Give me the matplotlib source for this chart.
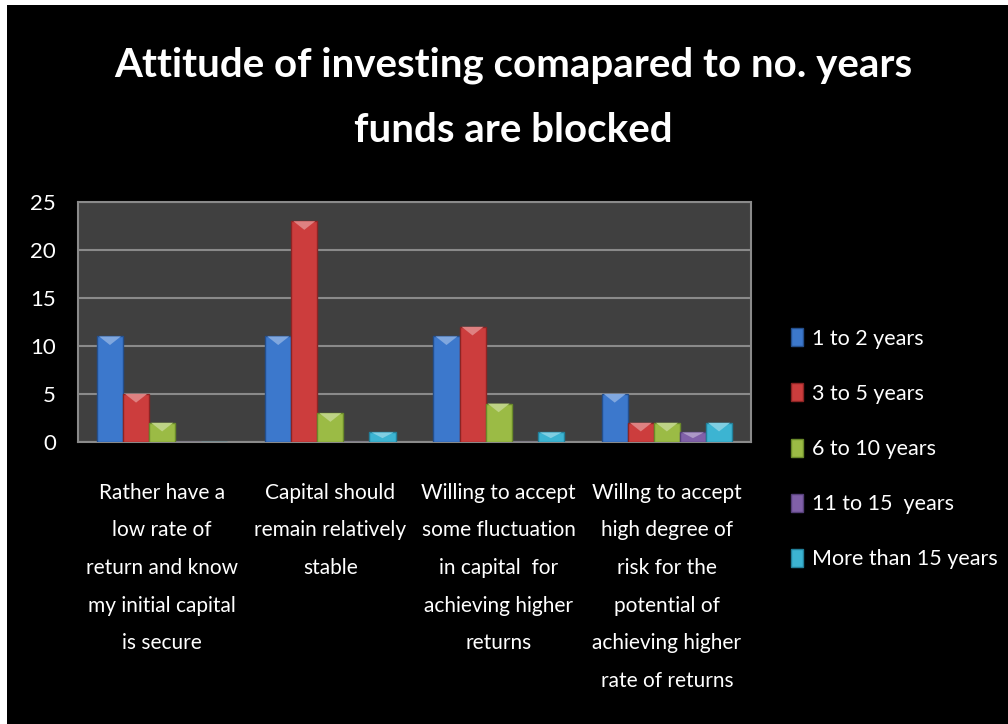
import numpy as np
import matplotlib.pyplot as plt
from matplotlib.patches import Rectangle, Polygon
from matplotlib.colors import to_rgb
from matplotlib import font_manager

# ----------- DATA -----------
categories = [
    "Rather have a\nlow rate of\nreturn and know\nmy initial capital\nis secure",
    "Capital should\nremain relatively\nstable",
    "Willing to accept\nsome fluctuation\nin capital  for\nachieving higher\nreturns",
    "Willng to accept\nhigh degree of\nrisk for the\npotential of\nachieving higher\nrate of returns",
]
series_names = ["1 to 2 years", "3 to 5 years", "6 to 10 years",
                "11 to 15  years", "More than 15 years"]
yrs_1_2 = [11, 11, 11, 5]
yrs_3_5 = [5, 23, 12, 2]
yrs_6_10 = [2, 3, 4, 2]
yrs_11_15 = [0, 0, 0, 1]
yrs_15_plus = [0, 1, 1, 2]
yticks = [0, 5, 10, 15, 20, 25]

colors = ["#3c78cc", "#cc3d3d", "#9bbb45", "#8060a8", "#3cb4d2"]
edges = ["#244f8c", "#8c2424", "#6a8a2a", "#56407a", "#22809a"]

# ----------- FONT -----------
names = {f.name for f in font_manager.fontManager.ttflist}
fam = "Liberation Sans Narrow" if "Liberation Sans Narrow" in names else "Lato"
plt.rcParams["font.family"] = [fam, "DejaVu Sans"]

# ----------- FIGURE -----------
fig = plt.figure(figsize=(10.08, 7.24), dpi=100, facecolor="white")
fig.patches.append(Rectangle((7 / 1008, 0), 1 - 7 / 1008, 1 - 5 / 724,
                             transform=fig.transFigure, facecolor="black",
                             edgecolor="none", zorder=-10))

fig.text(0.509, 0.91, "Attitude of investing comapared to no. years",
         ha="center", va="center", color="white", fontsize=29, fontweight="bold")
fig.text(0.509, 0.82, "funds are blocked",
         ha="center", va="center", color="white", fontsize=29, fontweight="bold")

ax = fig.add_axes([78 / 1008, 1 - 442 / 724, 673 / 1008, 240 / 724])
ax.set_facecolor("#404040")

data = [yrs_1_2, yrs_3_5, yrs_6_10, yrs_11_15, yrs_15_plus]
x = np.arange(len(categories))
w = 0.155
for i, vals in enumerate(data):
    pos = x + (i - 2) * w
    bars = ax.bar(pos, vals, width=w, color=colors[i], edgecolor=edges[i],
                  linewidth=1, label=series_names[i], zorder=3)
    # lighter bevel on top of each bar
    light = tuple(c + (1 - c) * 0.35 for c in to_rgb(colors[i]))
    for b in bars:
        h = b.get_height()
        if h <= 0:
            continue
        x0, bw = b.get_x(), b.get_width()
        d = min(0.9, h * 0.6)
        tri = Polygon([(x0 + bw * 0.08, h), (x0 + bw * 0.92, h),
                       (x0 + bw * 0.5, h - d)], closed=True,
                      facecolor=light, edgecolor="none", zorder=4)
        ax.add_patch(tri)

ax.set_xlim(-0.5, len(categories) - 0.5)
ax.set_ylim(0, 25)
ax.set_yticks(yticks)
ax.set_yticklabels([str(t) for t in yticks])
ax.tick_params(axis="y", colors="white", labelsize=16, length=0, pad=16)
ax.set_xticks([])
ax.grid(axis="y", color="#8a8a8a", linewidth=1.5, zorder=0)
for s in ax.spines.values():
    s.set_color("#8a8a8a")
    s.set_linewidth(1.5)

for i, lab in enumerate(categories):
    ax.text(x[i], -0.17, lab, transform=ax.get_xaxis_transform(),
            ha="center", va="top", color="white", fontsize=15,
            linespacing=2.1)

leg = ax.legend(loc="upper left", bbox_to_anchor=(1.03, 0.555),
                frameon=False, labelcolor="white", fontsize=15.5,
                handlelength=0.6, handleheight=0.9, handletextpad=0.4,
                labelspacing=1.62)

fig.savefig("out.png", dpi=100, facecolor=fig.get_facecolor())
